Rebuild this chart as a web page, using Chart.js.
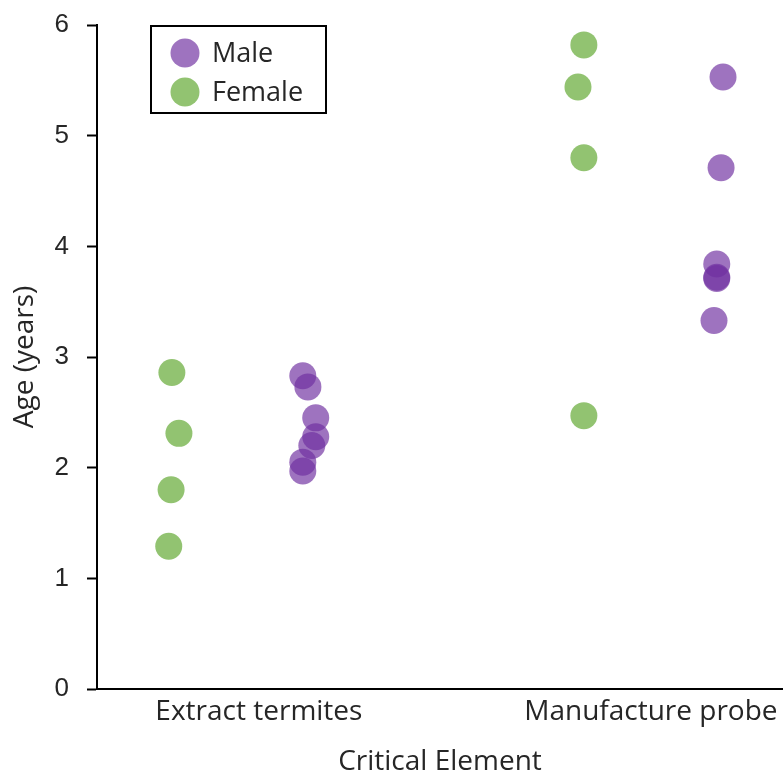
<!DOCTYPE html>
<html>
<head>
<meta charset="utf-8">
<script src="https://cdn.jsdelivr.net/npm/chart.js@4.4.1/dist/chart.umd.min.js"></script>
<style>
  html, body { margin: 0; padding: 0; background: #fff; }
  #wrap { width: 783px; height: 776px; }
</style>
</head>
<body>
<div id="wrap"><canvas id="myChart" width="783" height="776"></canvas></div>
<script>
// categories on the x axis (position 1 and 2)
var categories = ["Extract termites", "Manufacture probe"];
var yTicks = [0, 1, 2, 3, 4, 5, 6];

// female ages, with the x position (jittered around the category)
var femaleX   = [0.778, 0.796, 0.776, 0.770, 1.829, 1.814, 1.829, 1.829];
var femaleAge = [2.86, 2.31, 1.80, 1.29, 5.82, 5.44, 4.80, 2.47];

// male ages
var maleX   = [1.112, 1.125, 1.145, 1.145, 1.135, 1.112, 1.112, 2.184, 2.179, 2.168, 2.168, 2.168, 2.161];
var maleAge = [2.83, 2.73, 2.45, 2.28, 2.20, 2.05, 1.97, 5.53, 4.71, 3.84, 3.72, 3.71, 3.33];

var textCol = "#262626";
var fontFam = "'Open Sans', sans-serif";

function pts(xs, ys){
  return xs.map(function(x, i){ return {x: x, y: ys[i]}; });
}

// boxed legend drawn inside the plot, top left
var boxLegend = {
  id: "boxLegend",
  afterDraw: function(chart){
    var ctx = chart.ctx;
    var x0 = 151, y0 = 26, w = 175, h = 87;
    ctx.save();
    ctx.strokeStyle = "#000";
    ctx.lineWidth = 2;
    ctx.strokeRect(x0, y0, w, h);
    ctx.font = "27px " + fontFam;
    ctx.textBaseline = "middle";
    var rows = [chart.data.datasets[0], chart.data.datasets[1]];
    rows.forEach(function(ds, i){
      var cy = y0 + 27 + i * 39;
      ctx.beginPath();
      ctx.arc(x0 + 34, cy, 14.5, 0, Math.PI * 2);
      ctx.fillStyle = ds.backgroundColor;
      ctx.fill();
      ctx.fillStyle = textCol;
      ctx.fillText(ds.label, x0 + 61, cy + 1);
    });
    ctx.restore();
  }
};

var ctx = document.getElementById('myChart').getContext('2d');
var myChart = new Chart(ctx, {
  type: 'scatter',
  data: {
    datasets: [{
      label: 'Male',
      data: pts(maleX, maleAge),
      backgroundColor: 'rgba(112, 48, 160, 0.68)',
      borderWidth: 0,
      pointRadius: 13.5,
      pointHoverRadius: 13.5
    }, {
      label: 'Female',
      data: pts(femaleX, femaleAge),
      backgroundColor: 'rgb(146, 195, 113)',
      borderWidth: 0,
      pointRadius: 13.5,
      pointHoverRadius: 13.5
    }]
  },
  options: {
    responsive: false,
    animation: false,
    layout: { autoPadding: false, padding: { top: 25, right: 0, left: 0, bottom: 0 } },
    plugins: {
      legend: { display: false },
      tooltip: { enabled: false }
    },
    scales: {
      x: {
        type: 'linear',
        min: 0.587,
        max: 2.337,
        afterBuildTicks: function(scale){
          scale.ticks = categories.map(function(c, i){ return {value: i + 1}; });
        },
        afterFit: function(scale){
          scale.height = 87;
          scale.paddingLeft = 0;
          scale.paddingRight = 0;
        },
        ticks: {
          autoSkip: false,
          maxRotation: 0,
          padding: 6,
          color: textCol,
          font: { family: fontFam, size: 28 },
          callback: function(v){ return categories[Math.round(v) - 1]; }
        },
        grid: { drawOnChartArea: false, drawTicks: false },
        border: { display: true, color: '#000', width: 2 },
        title: {
          display: true,
          text: 'Critical Element',
          color: textCol,
          font: { family: fontFam, size: 28 },
          padding: { top: 0, bottom: -3 }
        }
      },
      y: {
        min: 0,
        max: 6,
        afterBuildTicks: function(scale){
          scale.ticks = yTicks.map(function(v){ return {value: v}; });
        },
        afterFit: function(scale){
          scale.width = 97;
          scale.paddingTop = 0;
          scale.paddingBottom = 0;
        },
        ticks: {
          padding: 18,
          color: textCol,
          font: { family: "'Liberation Sans', Arial, sans-serif", size: 26 }
        },
        grid: { drawOnChartArea: false, drawTicks: true, tickLength: 10, color: '#000', tickWidth: 2 },
        border: { display: true, color: '#000', width: 2 },
        title: {
          display: true,
          text: 'Age (years)',
          color: textCol,
          font: { family: fontFam, size: 28 },
          padding: { top: 8, bottom: 0 }
        }
      }
    }
  },
  plugins: [boxLegend]
});
</script>
</body>
</html>
